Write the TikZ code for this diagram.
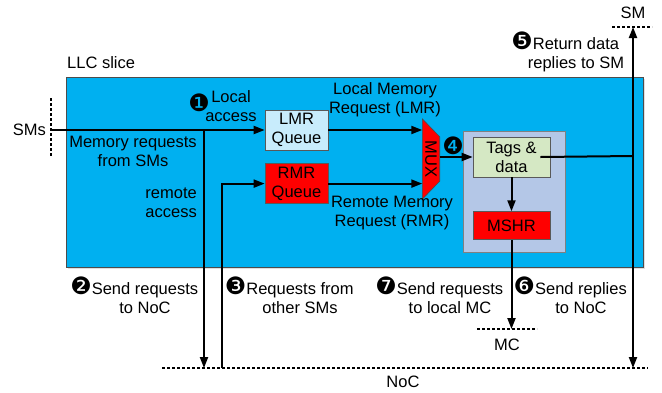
\documentclass[tikz,border=0pt]{standalone}
\usepackage{fontspec}
\setmainfont{Liberation Sans}
\newfontfamily\numfont{DejaVu Sans}[Scale=1.45]
\usepackage{tikz}
\usetikzlibrary{arrows.meta, positioning, shadows}
\definecolor{llcblue}{RGB}{0, 176, 240}
\definecolor{lmrblue}{RGB}{200, 236, 252}
\definecolor{panelgray}{RGB}{180, 199, 231}
\definecolor{tagsgreen}{RGB}{213, 232, 196}
\definecolor{boxred}{RGB}{255, 0, 0}

\tikzset{
  flow/.style={line width=2pt, -{Triangle[length=11pt, width=8pt]}},
  wire/.style={line width=2pt},
  port/.style={line width=1.6pt, dash pattern=on 3pt off 2pt},
  queuebox/.style={draw=black!65, line width=0.6pt, minimum width=63pt,
                   minimum height=40pt, inner sep=0pt, align=center},
  lbl/.style={align=center, inner sep=0pt},
  num/.style={font=\fontsize{16.5}{19}\selectfont\numfont, inner sep=0pt},
}

\begin{document}
\begin{tikzpicture}[x=1pt, y=-1pt, font=\fontsize{16.5}{19}\selectfont]
  \useasboundingbox (0,0) rectangle (662,392);

  % LLC slice
  \node[draw=black!70, line width=0.6pt, fill=llcblue, minimum width=577pt, minimum height=190pt,
        drop shadow={opacity=0.25, shadow xshift=2pt, shadow yshift=-2pt}] (llc) at (354.5,172) {};
  \node[lbl, anchor=west] (llcname) at (67,63) {LLC slice};

  % queues
  \node[queuebox, fill=lmrblue] (lmr) at (296.5,130) {LMR\\Queue};
  \node[queuebox, fill=boxred, below=13pt of lmr] (rmr) {RMR\\Queue};

  % mux
  \node[minimum width=17pt, minimum height=80pt, inner sep=0pt] (mux) at (431,159) {};
  \draw[draw=black!70, line width=0.6pt, fill=boxred] (mux.north west) -- ([yshift=-18pt]mux.north east)
    -- ([yshift=18pt]mux.south east) -- (mux.south west) -- cycle;
  \node[lbl, rotate=-90] (muxname) at (mux) {MUX};

  % tag array
  \node[draw=black!50, line width=0.6pt, fill=panelgray, minimum width=102pt, minimum height=121pt] (cache) at (514,191.5) {};
  \node[queuebox, fill=tagsgreen, minimum width=77pt] (tags) at (511.5,157) {Tags \&\\data};
  \node[queuebox, fill=boxred, minimum width=77pt, minimum height=28pt, below=34pt of tags] (mshr) {MSHR};

  % ports
  \coordinate (smsT) at (51,98);
  \coordinate (smsB) at (51,157);
  \coordinate (smsin) at (51,130);
  \draw[port] (smsT) -- (smsB);
  \node[lbl, anchor=east] (smsname) at (46,130) {SMs};

  \coordinate (nocL) at (162,368);
  \coordinate (nocR) at (648,368);
  \draw[port] (nocL) -- (nocR);
  \node[lbl] (nocname) at (403,382) {NoC};

  \coordinate (mcL) at (477,329);
  \coordinate (mcR) at (537,329);
  \draw[port] (mcL) -- (mcR);
  \node[lbl] (mcname) at (507,345) {MC};

  \coordinate (smL) at (612,27);
  \coordinate (smR) at (652,27);
  \draw[port] (smL) -- (smR);
  \node[lbl] (smname) at (633,13) {SM};

  % connections
  \coordinate (fork) at (204,130);
  \coordinate (nocin) at (222,368);
  \coordinate (outjoin) at (633,156);
  \draw[flow] (smsin) -- (lmr.west);
  \draw[flow] (fork) -- (fork |- nocL);
  \draw[flow] (nocin) |- (rmr.west);
  \draw[flow] (lmr.east) -- (lmr.east -| mux.west);
  \draw[flow] (rmr.east) -- (rmr.east -| mux.west);
  \draw[flow] (mux.east |- tags.west) -- (tags.west);
  \draw[flow] (tags.south) -- (mshr.north);
  \draw[flow] (mshr.south) -- (mshr.south |- mcL);
  \draw[wire] ([xshift=-10pt]tags.east) -- (outjoin);
  \draw[flow] (outjoin) -- (outjoin |- smL);
  \draw[flow] (outjoin) -- (outjoin |- nocR);

  % labels
  \node[num] (n1) at (199,103) {❶};
  \node[lbl] (localacc) at (231,106) {Local\\access};
  \node[lbl] (memreq) at (133,151) {Memory requests\\from SMs};
  \node[lbl, align=right, anchor=east] (remacc) at (197,203) {remote\\access};
  \node[lbl] (lmrname) at (385,100) {Local Memory\\Request (LMR)};
  \node[lbl] (rmrname) at (392,213) {Remote Memory\\Request (RMR)};
  \node[num] (n4) at (453,146) {❹};
  \node[lbl] (retdata) at (576,52) {\llap{\numfont ❺}Return data\\replies to SM};
  \node[lbl] (sendnoc) at (145,295) {\llap{\numfont ❷}Send requests\\to NoC};
  \node[lbl] (othersm) at (300,295) {\llap{\numfont ❸}Requests from\\other SMs};
  \node[lbl] (sendmc) at (450,295) {\llap{\numfont ❼}Send requests\\to local MC};
  \node[lbl] (sendrep) at (581,295) {\llap{\numfont ❻}Send replies\\to NoC};
\end{tikzpicture}
\end{document}
